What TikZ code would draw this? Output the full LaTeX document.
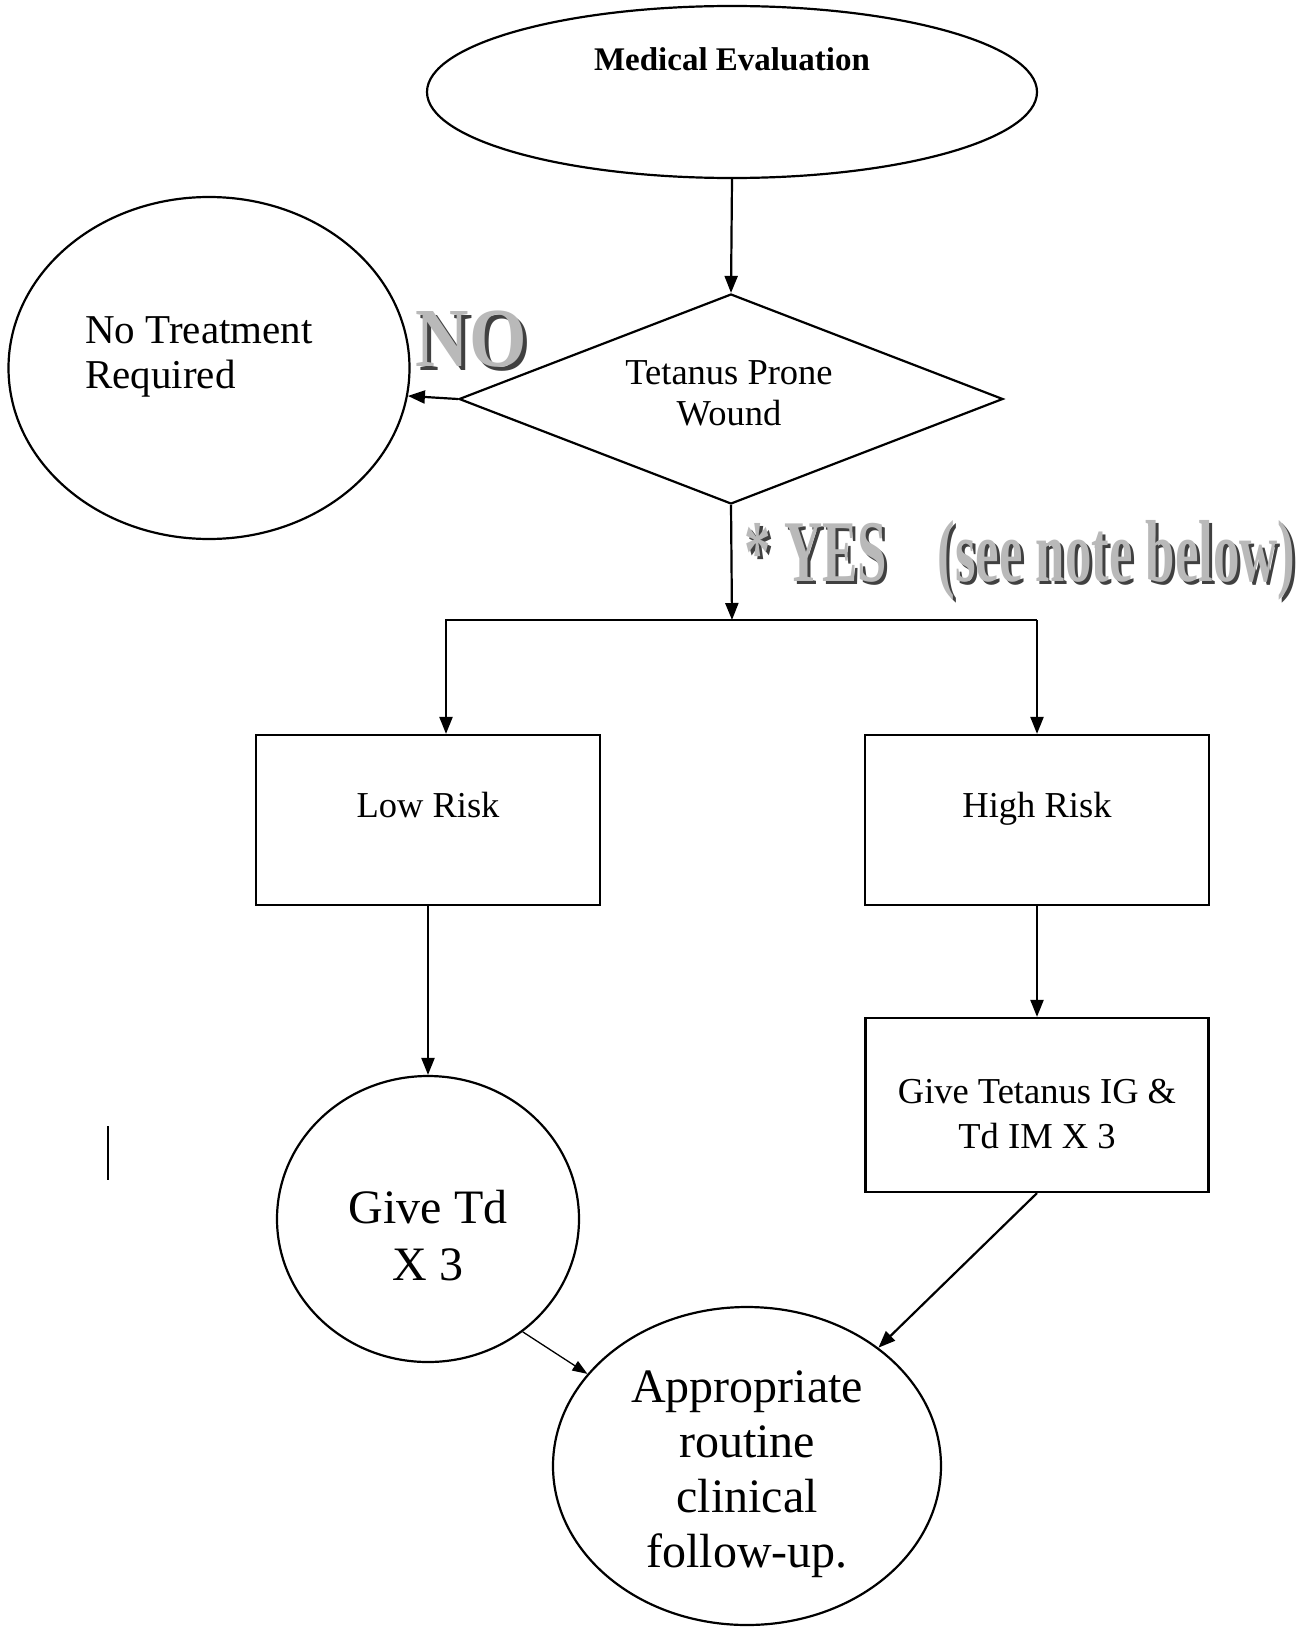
\documentclass[tikz,border=0pt]{standalone}
\usepackage{fontspec}
\setmainfont{Liberation Serif}
\usetikzlibrary{shapes.geometric,arrows.meta}

\begin{document}
\begin{tikzpicture}[x=1pt,y=-1pt,line width=2.2pt,
  flow/.style={-{Triangle[length=17pt,width=13pt]}},
  thinflow/.style={-{Triangle[length=15pt,width=11pt]},line width=1.3pt},
  oval/.style={draw,ellipse,inner sep=0pt},
  box/.style={draw,rectangle,inner sep=0pt},
  lbl/.style={inner sep=0pt,align=center},
  smalltxt/.style={lbl,font=\fontsize{36.5pt}{45pt}\selectfont},
  bigtxt/.style={lbl,font=\fontsize{48pt}{56pt}\selectfont},
  wordart/.style={inner sep=0pt,anchor=base west,font=\bfseries\fontsize{88pt}{90pt}\selectfont}]
  \path[fill=white] (0,0) rectangle (1310,1627);
  % top of the chart
  \node[oval,minimum width=610pt,minimum height=172pt] (medeval) at (732,92) {};
  \node[lbl,anchor=base,font=\bfseries\fontsize{33pt}{40pt}\selectfont] (medtxt) at (732,71) {Medical Evaluation};
  \node[draw,diamond,inner sep=0pt,minimum width=544pt,minimum height=210pt] (wound) at (731,399) {};
  \node[lbl,font=\fontsize{36.5pt}{41pt}\selectfont] (woundtxt) at (729,393) {Tetanus Prone\\Wound};
  \draw[flow] (medeval.south) -- (wound.north);
  % NO branch
  \node[oval,minimum width=401pt,minimum height=342pt] (notreat) at (209,368) {};
  \node[lbl,align=left,font=\fontsize{41pt}{45pt}\selectfont] (notxt) at (199,357) {No Treatment\\Required};
  \draw[flow] (wound.west) -- (notreat.-8);
  \node[wordart,font=\bfseries\fontsize{84pt}{86pt}\selectfont,xscale=0.88,text=black!75] (noshade) at (419,370) {NO};
  \node[wordart,font=\bfseries\fontsize{84pt}{86pt}\selectfont,xscale=0.88,text=gray!55] (nolbl) at (415,366) {NO};
  % YES branch
  \node[wordart,xscale=0.6,text=black!75] (yesshade) at (747,584) {* YES};
  \node[wordart,xscale=0.6,text=gray!55] (yeslbl) at (744,581) {* YES};
  \node[wordart,xscale=0.6,text=black!75] (noteshade) at (940,584) {(see note below)};
  \node[wordart,xscale=0.6,text=gray!55] (notelbl) at (937,581) {(see note below)};
  \coordinate (split) at (732,620);
  \coordinate (splitL) at (446,620);
  \coordinate (splitR) at (1037,620);
  \draw[flow] (wound.south) -- (split);
  % risk boxes
  \node[box,minimum width=344pt,minimum height=170pt] (lowrisk) at (428,820) {};
  \node[smalltxt,anchor=base] (lowtxt) at (428,817) {Low Risk};
  \node[box,minimum width=344pt,minimum height=170pt] (highrisk) at (1037,820) {};
  \node[smalltxt,anchor=base] (hightxt) at (1037,817) {High Risk};
  \draw[flow] (splitR) -- (splitL) -- (splitL |- lowrisk.north);
  \draw[flow] (splitR) -- (highrisk.north);
  % treatments
  \node[oval,minimum width=302pt,minimum height=286pt] (givetd) at (428,1219) {};
  \node[bigtxt,font=\fontsize{48pt}{57pt}\selectfont] (tdtxt) at (428,1236) {Give Td\\X 3};
  \node[box,minimum width=343pt,minimum height=174pt] (giveig) at (1037,1105) {};
  \node[smalltxt] (igtxt) at (1037,1114) {Give Tetanus IG \&\\Td IM X 3};
  \draw[flow] (lowrisk.south) -- (givetd.north);
  \draw[flow] (highrisk.south) -- (giveig.north);
  % follow-up
  \node[oval,minimum width=388pt,minimum height=318pt] (follow) at (747,1466) {};
  \node[bigtxt,font=\fontsize{48pt}{55pt}\selectfont] (followtxt) at (747,1474) {Appropriate\\routine\\clinical\\follow-up.};
  \draw[thinflow] (givetd.-50) -- (follow.150);
  \draw[flow] (giveig.south) -- (follow.42);
  % stray mark
  \draw[line width=2pt] (108,1126) -- (108,1180);
\end{tikzpicture}
\end{document}
